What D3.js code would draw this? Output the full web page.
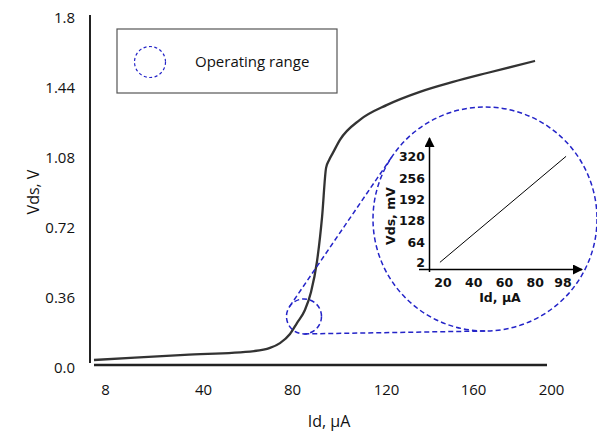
<!DOCTYPE html>
<html>
<head>
<meta charset="utf-8">
<script src="https://cdn.jsdelivr.net/npm/d3@7"></script>
<style>
  body { margin: 0; background: #fff; }
  text { font-family: "Open Sans", sans-serif; fill: #111; }
  .inset text { font-family: "DejaVu Sans", sans-serif; font-weight: bold; }
</style>
</head>
<body>
<svg width="597" height="431"></svg>
<script>
// main curve, Id (uA) vs Vds (V)
let idValues = [4.4, 34, 63, 70.1, 74.6, 79.1, 82.1, 85.5, 88.1, 90.6, 92.8, 94.5, 95.8, 97.4, 100.4, 108.9, 120.5, 135.6, 150.8, 167.2, 191.8]
let vdsValues = [0.036, 0.062, 0.082, 0.098, 0.123, 0.170, 0.226, 0.293, 0.386, 0.540, 0.772, 1.024, 1.065, 1.101, 1.168, 1.271, 1.348, 1.415, 1.466, 1.512, 1.574]

let xTicks = [8, 40, 80, 120, 160, 200]
let yTicks = [0.0, 0.36, 0.72, 1.08, 1.44, 1.8]
let yTickLabels = ['0.0', '0.36', '0.72', '1.08', '1.44', '1.8']

// operating range marker
let opId = 85.1
let opVds = 0.26

// inset (zoomed) data, Id (uA) vs Vds (mV)
let insetId = [18, 100]
let insetVds = [4, 322]
let insetXTicks = [20, 40, 60, 80, 98]
let insetYTicks = [2, 64, 128, 192, 256, 320]

let svg = d3.select('svg')
let blue = '#2424c8'

// scales
let xScale = d3.scaleLinear()
  .domain(xTicks)
  .range([105, 203, 292, 386, 473, 551])
let yScale = d3.scaleLinear().domain([0, 1.8]).range([367, 17])

// axis lines (no tick marks in the original)
svg.append('line')
  .attr('x1', 90).attr('x2', 90).attr('y1', 15).attr('y2', 363)
  .attr('stroke', '#222').attr('stroke-width', 2)
svg.append('line')
  .attr('x1', 94).attr('x2', 547).attr('y1', 365).attr('y2', 365)
  .attr('stroke', '#222').attr('stroke-width', 2.5)

let xAxis = d3.axisBottom(xScale).tickValues(xTicks).tickSize(0).tickPadding(0)
svg.append('g')
  .attr('transform', 'translate(0,390)')
  .call(xAxis)
  .call(g => g.select('.domain').remove())
  .selectAll('text')
  .attr('dy', '0.35em')
  .style('font-size', '15px')
  .style('font-family', '"Open Sans", sans-serif')
  .attr('fill', '#111')

let yAxis = d3.axisLeft(yScale).tickValues(yTicks).tickSize(0).tickPadding(0)
  .tickFormat((d, i) => yTickLabels[i])
svg.append('g')
  .attr('transform', 'translate(75,0)')
  .call(yAxis)
  .call(g => g.select('.domain').remove())
  .selectAll('text')
  .attr('dy', '0.35em')
  .style('font-size', '15px')
  .style('font-family', '"Open Sans", sans-serif')
  .attr('fill', '#111')

svg.append('text')
  .attr('transform', 'translate(33,192) rotate(-90)')
  .attr('text-anchor', 'middle').attr('dy', '0.35em')
  .style('font-size', '16px')
  .text('Vds, V')
svg.append('text')
  .attr('x', 329).attr('y', 421)
  .attr('text-anchor', 'middle').attr('dy', '0.35em')
  .style('font-size', '16px')
  .text('Id, µA')

// curve
let line = d3.line()
  .x((d, i) => xScale(idValues[i]))
  .y((d, i) => yScale(vdsValues[i]))
  .curve(d3.curveMonotoneX)
svg.append('path')
  .attr('d', line(idValues))
  .attr('fill', 'none')
  .attr('stroke', '#333')
  .attr('stroke-width', 2.3)

// operating range circle + lens
let c1 = { x: xScale(opId), y: yScale(opVds), r: 17.5 }
let c2 = { x: 485, y: 219, r: 112 }

let dx = c2.x - c1.x, dy = c2.y - c1.y
let d = Math.hypot(dx, dy)
let base = Math.atan2(dy, dx)
let off = Math.acos((c1.r - c2.r) / d)
;[base + off, base - off].forEach(a => {
  svg.append('line')
    .attr('x1', c1.x + c1.r * Math.cos(a)).attr('y1', c1.y + c1.r * Math.sin(a))
    .attr('x2', c2.x + c2.r * Math.cos(a)).attr('y2', c2.y + c2.r * Math.sin(a))
    .attr('stroke', blue).attr('stroke-width', 1.5).attr('stroke-dasharray', '5,3')
})

svg.selectAll('circle.zoom')
  .data([c1, c2])
  .enter()
  .append('circle')
  .attr('class', 'zoom')
  .attr('cx', c => c.x).attr('cy', c => c.y).attr('r', c => c.r)
  .attr('fill', 'none')
  .attr('stroke', blue).attr('stroke-width', 1.5).attr('stroke-dasharray', '5,3')

// legend
svg.append('rect')
  .attr('x', 117).attr('y', 29).attr('width', 220).attr('height', 64)
  .attr('fill', '#fff').attr('stroke', '#555').attr('stroke-width', 1.2)
svg.append('circle')
  .attr('cx', 150).attr('cy', 62).attr('r', 15.5)
  .attr('fill', 'none')
  .attr('stroke', blue).attr('stroke-width', 1.2).attr('stroke-dasharray', '3,2.5')
svg.append('text')
  .attr('x', 195).attr('y', 62).attr('dy', '0.35em')
  .style('font-size', '15px')
  .text('Operating range')

// inset chart
let inset = svg.append('g').attr('class', 'inset')
let ix = d3.scaleLinear().domain([20, 98]).range([443, 563])
let iy = d3.scaleLinear().domain([2, 320]).range([263, 157])

inset.append('defs').append('marker')
  .attr('id', 'arrow')
  .attr('viewBox', '0 0 10 10')
  .attr('refX', 9).attr('refY', 5)
  .attr('markerWidth', 14).attr('markerHeight', 10)
  .attr('markerUnits', 'userSpaceOnUse')
  .attr('orient', 'auto')
  .append('path').attr('d', 'M0,0 L10,5 L0,10 Z').attr('fill', '#000')

inset.append('line')
  .attr('x1', 429.5).attr('x2', 429.5).attr('y1', 272).attr('y2', 138)
  .attr('stroke', '#000').attr('stroke-width', 1.5)
  .attr('marker-end', 'url(#arrow)')
inset.append('line')
  .attr('x1', 419).attr('x2', 582).attr('y1', 269.5).attr('y2', 269.5)
  .attr('stroke', '#000').attr('stroke-width', 1.5)
  .attr('marker-end', 'url(#arrow)')

inset.selectAll('text.ixt')
  .data(insetXTicks)
  .enter()
  .append('text')
  .attr('class', 'ixt')
  .attr('x', v => ix(v)).attr('y', 283).attr('dy', '0.35em')
  .attr('text-anchor', 'middle')
  .style('font-size', '12.5px')
  .text(v => v)

inset.selectAll('text.iyt')
  .data(insetYTicks)
  .enter()
  .append('text')
  .attr('class', 'iyt')
  .attr('x', 425).attr('y', v => iy(v)).attr('dy', '0.35em')
  .attr('text-anchor', 'end')
  .style('font-size', '12.5px')
  .text(v => v)

inset.append('text')
  .attr('transform', 'translate(391,216) rotate(-90)')
  .attr('text-anchor', 'middle').attr('dy', '0.35em')
  .style('font-size', '12.5px')
  .text('Vds, mV')
inset.append('text')
  .attr('x', 500).attr('y', 298).attr('dy', '0.35em')
  .attr('text-anchor', 'middle')
  .style('font-size', '12.5px')
  .text('Id, µA')

let insetLine = d3.line()
  .x((d, i) => ix(insetId[i]))
  .y((d, i) => iy(insetVds[i]))
inset.append('path')
  .attr('d', insetLine(insetId))
  .attr('fill', 'none')
  .attr('stroke', '#000')
  .attr('stroke-width', 1)
</script>
</body>
</html>
